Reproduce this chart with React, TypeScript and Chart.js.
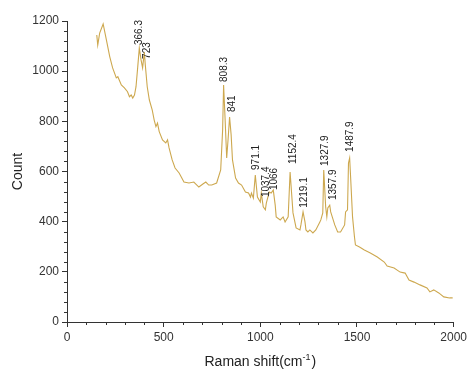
import React, { useEffect, useRef } from 'react';
import { Chart, registerables } from 'chart.js';

Chart.register(...registerables);

// Raman shift (cm-1) sample positions
const ramanShift = [
  154, 159, 169, 187, 204, 221, 236, 255, 263, 281, 297, 313, 323, 332, 340, 349, 357, 366,
  374, 383, 391, 400, 405, 415, 426, 441, 451, 460, 468, 477, 494, 511, 520, 528, 544, 559,
  580, 605, 631, 656, 682, 703, 718, 733, 749, 774, 795, 805, 810, 818, 826, 833, 841, 849,
  856, 872, 887, 903, 923, 939, 949, 954, 964, 974, 985, 1000, 1005, 1015, 1026, 1031, 1046,
  1056, 1067, 1077, 1082, 1103, 1118, 1128, 1144, 1154, 1169, 1185, 1205, 1210, 1221, 1231,
  1236, 1246, 1256, 1272, 1287, 1308, 1313, 1323, 1328, 1338, 1344, 1349, 1359, 1364, 1385,
  1400, 1415, 1436, 1441, 1451, 1456, 1462, 1467, 1477, 1487, 1492, 1513, 1538, 1569, 1605,
  1641, 1656, 1692, 1723, 1749, 1769, 1795, 1826, 1862, 1877, 1897, 1923, 1949, 1979, 1995,
];

// Count values
const counts = [
  1144, 1104, 1152, 1188, 1124, 1058, 1013, 973, 978, 945, 933, 918, 898, 905, 893, 905, 938, 1018,
  1092, 1045, 1013, 1076, 1025, 938, 885, 845, 805, 779, 793, 759, 726, 714, 726, 694, 646, 614,
  594, 558, 554, 558, 538, 550, 558, 546, 546, 554, 606, 766, 945, 805, 654, 726, 817, 746,
  646, 574, 554, 546, 518, 514, 498, 514, 494, 586, 498, 478, 514, 459, 447, 474, 518,
  514, 526, 466, 419, 407, 419, 399, 419, 598, 435, 375, 367, 387, 439, 399,
  367, 359, 367, 355, 367, 399, 407, 435, 606, 459, 419, 455, 466, 439, 387,
  359, 359, 387, 439, 447, 634, 654, 578, 419, 339, 307, 299, 287, 275, 259,
  239, 223, 215, 199, 195, 167, 159, 148, 136, 120, 128, 116, 100, 96, 96,
];

// Peak annotations
const peakLabels = ['366.3', '723', '808.3', '841', '971.1', '1037.4', '1066', '1152.4', '1219.1', '1327.9', '1357.9', '1487.9'];
const peakLabelX = [374, 415, 815, 856, 979, 1031, 1072, 1169, 1226, 1338, 1379, 1467];
const peakLabelY = [1104, 1049, 957, 837, 606, 498, 526, 630, 455, 622, 486, 678];

const xMin = 0;
const xMax = 2000;
const yMin = 0;
const yMax = 1200;
const xMajorStep = 500;
const xMinorStep = 100;
const yMajorStep = 200;
const yMinorStep = 40;

const yTitle = 'Count';
const xTitleMain = 'Raman shift(cm';
const xTitleSup = '-1';
const xTitleEnd = ')';

const FONT = '"Liberation Sans", Arial, sans-serif';
const AXIS = '#333333';
const LINE = '#cda84f';

export default function App() {
  const ref = useRef<HTMLCanvasElement>(null);

  useEffect(() => {
    if (!ref.current) return;

    const drawMinorTicks = (chart: any) => {
      const ctx = chart.ctx;
      const area = chart.chartArea;
      const xs = chart.scales.x;
      const ys = chart.scales.y;
      ctx.save();
      ctx.fillStyle = AXIS;
      for (let v = yMin + yMinorStep; v < yMax; v += yMinorStep) {
        if (v % yMajorStep === 0) continue;
        const py = Math.round(ys.getPixelForValue(v));
        ctx.fillRect(Math.round(area.left) - 3, py, 3, 1);
      }
      for (let v = xMin + xMinorStep; v < xMax; v += xMinorStep) {
        if (v % xMajorStep === 0) continue;
        const px = Math.round(xs.getPixelForValue(v));
        ctx.fillRect(px, Math.round(area.bottom), 1, 3);
      }
      ctx.restore();
    };

    const overlay = {
      id: 'overlay',
      afterDatasetsDraw(chart: any) {
        const { ctx, scales } = chart;
        drawMinorTicks(chart);

        ctx.save();
        ctx.fillStyle = '#222222';
        ctx.font = `10px ${FONT}`;
        ctx.textAlign = 'left';
        ctx.textBaseline = 'middle';
        peakLabels.forEach((label, i) => {
          const px = scales.x.getPixelForValue(peakLabelX[i]);
          const py = scales.y.getPixelForValue(peakLabelY[i]);
          ctx.save();
          ctx.translate(px, py);
          ctx.rotate(-Math.PI / 2);
          ctx.fillText(label, 0, 0);
          ctx.restore();
        });
        ctx.restore();

        const area = chart.chartArea;
        ctx.save();
        ctx.fillStyle = '#222222';
        ctx.textBaseline = 'alphabetic';
        ctx.textAlign = 'left';
        const mainFont = `14px ${FONT}`;
        const supFont = `9px ${FONT}`;
        ctx.font = mainFont;
        const w1 = ctx.measureText(xTitleMain).width;
        const w3 = ctx.measureText(xTitleEnd).width;
        ctx.font = supFont;
        const w2 = ctx.measureText(xTitleSup).width;
        const total = w1 + w2 + 1 + w3;
        const cx = (area.left + area.right) / 2;
        let x = cx - total / 2;
        const base = area.bottom + 44;
        ctx.font = mainFont;
        ctx.fillText(xTitleMain, x, base);
        x += w1;
        ctx.font = supFont;
        ctx.fillText(xTitleSup, x, base - 6);
        x += w2 + 1;
        ctx.font = mainFont;
        ctx.fillText(xTitleEnd, x, base);
        ctx.restore();
      },
    };

    const chart = new Chart(ref.current, {
      type: 'line',
      data: {
        datasets: [
          {
            data: ramanShift.map((x, i) => ({ x, y: counts[i] })),
            borderColor: LINE,
            borderWidth: 1.1,
            pointRadius: 0,
            tension: 0,
            fill: false,
          },
        ],
      },
      options: {
        animation: false,
        responsive: false,
        maintainAspectRatio: false,
        layout: { padding: { top: 21, right: 13, left: 0, bottom: 0 } },
        plugins: { legend: { display: false }, tooltip: { enabled: false } },
        scales: {
          x: {
            type: 'linear',
            min: xMin,
            max: xMax,
            ticks: {
              stepSize: xMajorStep,
              color: AXIS,
              font: { family: FONT, size: 12 },
              padding: 3,
              maxRotation: 0,
              callback: (v: any) => String(v),
            },
            grid: { drawOnChartArea: false, tickLength: 5, color: AXIS, tickColor: AXIS },
            border: { color: AXIS, width: 1 },
            afterFit: (s: any) => { s.height = 49; },
          },
          y: {
            type: 'linear',
            min: yMin,
            max: yMax,
            ticks: {
              stepSize: yMajorStep,
              color: AXIS,
              font: { family: FONT, size: 12 },
              padding: 3,
              callback: (v: any) => String(v),
            },
            grid: { drawOnChartArea: false, tickLength: 5, color: AXIS, tickColor: AXIS },
            border: { color: AXIS, width: 1 },
            title: { display: true, text: yTitle, color: '#222222', font: { family: FONT, size: 14 }, padding: { top: 10, bottom: 0 } },
            afterFit: (s: any) => { s.width = 67; },
          },
        },
      },
      plugins: [overlay],
    });

    return () => chart.destroy();
  }, []);

  return (
    <div style={{ position: 'fixed', left: 0, top: 0, width: 470, height: 371, background: '#ffffff' }}>
      <canvas ref={ref} width={470} height={371} style={{ width: 470, height: 371, display: 'block' }} />
    </div>
  );
}
